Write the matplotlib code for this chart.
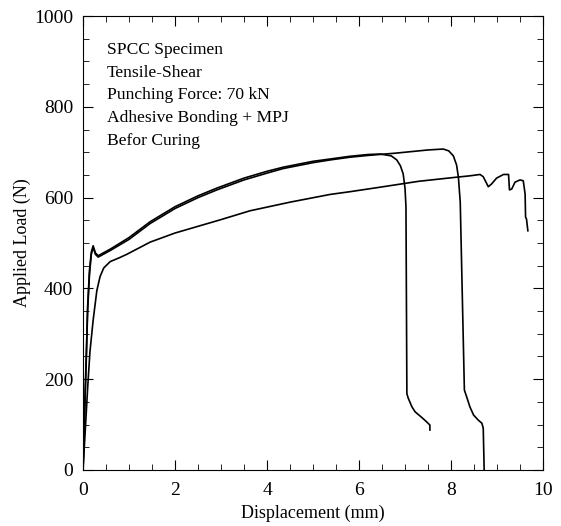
import matplotlib.pyplot as plt
from matplotlib.ticker import MultipleLocator

plt.rcParams['font.family'] = ['Liberation Serif', 'DejaVu Serif']

# 曲线 A：约 7.04 mm 处断裂
xa = [0, 0.03, 0.07, 0.1, 0.14, 0.18, 0.22, 0.27, 0.33, 0.6, 1.0, 1.46, 2.0, 2.5,
      2.91, 3.5, 4.0, 4.35, 5.0, 5.37, 5.8, 6.2, 6.46, 6.7, 6.82, 6.9, 6.96, 7.0,
      7.02, 7.04, 7.07, 7.15, 7.22, 7.36, 7.47, 7.54, 7.54]
ya = [0, 120, 250, 360, 440, 480, 494, 478, 472, 487, 512, 547, 580, 604,
      621, 643, 658, 667, 680, 685, 691, 695, 696, 692, 683, 670, 652, 620,
      580, 168, 158, 139, 128, 116, 106, 99, 88]

# 曲线 B：约 8.29 mm 处断裂
xb = [0, 0.03, 0.07, 0.1, 0.14, 0.18, 0.22, 0.27, 0.33, 0.6, 1.0, 1.46, 2.0, 2.5,
      2.91, 3.5, 4.0, 4.35, 5.0, 5.37, 5.8, 6.2, 6.8, 7.2, 7.5, 7.83, 7.95, 8.05,
      8.12, 8.16, 8.2, 8.29, 8.34, 8.41, 8.49, 8.59, 8.67, 8.7, 8.72]
yb = [0, 110, 240, 350, 430, 475, 490, 475, 469, 484, 508, 543, 576, 600,
      617, 639, 654, 664, 677, 683, 689, 693, 698, 702, 705, 707, 703, 692,
      672, 645, 590, 176, 161, 139, 121, 110, 103, 92, 0]

# 曲线 C：约 9.67 mm 处断裂
xc = [0, 0.05, 0.1, 0.15, 0.22, 0.3, 0.37, 0.45, 0.59, 0.8, 0.95, 1.46, 2.0, 2.98,
      3.63, 4.5, 5.37, 5.8, 6.46, 7.3, 8.12, 8.41, 8.63, 8.7, 8.76, 8.81, 8.88, 8.99,
      9.14, 9.25, 9.27, 9.32, 9.39, 9.5, 9.57, 9.61, 9.62, 9.64, 9.67]
yc = [0, 90, 180, 260, 330, 395, 426, 445, 459, 468, 475, 502, 522, 551,
      571, 590, 607, 613, 623, 636, 645, 648, 651, 646, 634, 624, 630, 643,
      651, 651, 617, 619, 634, 639, 637, 608, 557, 553, 527]

notes = ["SPCC Specimen", "Tensile-Shear", "Punching Force: 70 kN",
         "Adhesive Bonding + MPJ", "Befor Curing"]

fig = plt.figure(figsize=(5.61, 5.26), dpi=100)
ax = fig.add_axes([0.148, 0.1065, 0.82, 0.863])

for x, y in [(xa, ya), (xb, yb), (xc, yc)]:
    ax.plot(x, y, color="black", lw=1.2)

ax.set_xlim(0, 10)
ax.set_ylim(0, 1000)
ax.xaxis.set_major_locator(MultipleLocator(2))
ax.xaxis.set_minor_locator(MultipleLocator(0.5))
ax.yaxis.set_major_locator(MultipleLocator(200))
ax.yaxis.set_minor_locator(MultipleLocator(50))
ax.tick_params(which="both", direction="in", top=True, right=True, labelsize=14)
ax.tick_params(which="major", length=7, pad=7)
ax.tick_params(which="minor", length=4)
ax.tick_params(axis="x", which="major", pad=9)
ax.set_xlabel("Displacement (mm)", fontsize=13, labelpad=4)
ax.set_ylabel("Applied Load (N)", fontsize=13, labelpad=2)

for i, s in enumerate(notes):
    ax.text(0.52, 926 - i * 50.5, s, fontsize=12.6, va="center", ha="left")

fig.savefig("out.png", dpi=100)
